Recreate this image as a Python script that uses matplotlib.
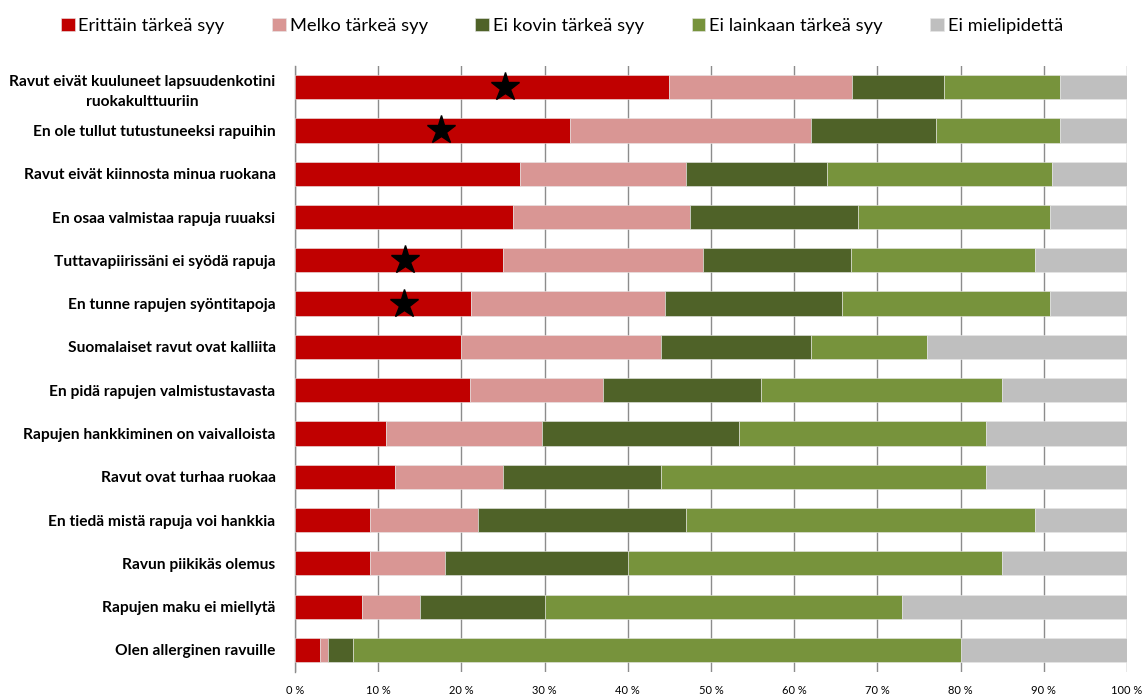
import matplotlib
matplotlib.use("Agg")
import matplotlib.pyplot as plt
import numpy as np

categories = [
    "Ravut eivät kuuluneet lapsuudenkotini\nruokakulttuuriin",
    "En ole tullut tutustuneeksi rapuihin",
    "Ravut eivät kiinnosta minua ruokana",
    "En osaa valmistaa rapuja ruuaksi",
    "Tuttavapiirissäni ei syödä rapuja",
    "En tunne rapujen syöntitapoja",
    "Suomalaiset ravut ovat kalliita",
    "En pidä rapujen valmistustavasta",
    "Rapujen hankkiminen on vaivalloista",
    "Ravut ovat turhaa ruokaa",
    "En tiedä mistä rapuja voi hankkia",
    "Ravun piikikäs olemus",
    "Rapujen maku ei miellytä",
    "Olen allerginen ravuille",
]

series_names = ["Erittäin tärkeä syy", "Melko tärkeä syy", "Ei kovin tärkeä syy",
                "Ei lainkaan tärkeä syy", "Ei mielipidettä"]

erittain = [45, 33, 27, 26.2, 25, 21.2, 20, 21, 10.9, 12, 9, 9, 8, 3]
melko = [22, 29, 20, 21.3, 24, 23.3, 24, 16, 18.8, 13, 13, 9, 7, 1]
ei_kovin = [11, 15, 17, 20.2, 17.8, 21.2, 18, 19, 23.7, 19, 25, 22, 15, 3]
ei_lainkaan = [14, 15, 27, 23, 22.1, 25, 14, 29, 29.7, 39, 42, 45, 43, 73]
ei_mielipidetta = [8, 8, 9, 9.3, 11.1, 9.3, 24, 15, 16.9, 17, 11, 15, 27, 20]

# significance markers: (category index, x position in %)
star_rows = [0, 1, 4, 5]
star_x = [25.3, 17.5, 13.2, 13.1]

tick_values = [0, 10, 20, 30, 40, 50, 60, 70, 80, 90, 100]
tick_labels = [f"{v} %" for v in tick_values]

colors = ["#C00000", "#D99694", "#4F6228", "#77933C", "#BFBFBF"]

fig = plt.figure(figsize=(11.44, 6.95), dpi=100)
ax = fig.add_axes([295 / 1144, (695 - 671.6) / 695, 832 / 1144, 606.1 / 695])

y = np.arange(len(categories))
left = np.zeros(len(categories))
handles = []
for vals, name, col in zip([erittain, melko, ei_kovin, ei_lainkaan, ei_mielipidetta],
                           series_names, colors):
    vals = np.array(vals, dtype=float)
    b = ax.barh(y, vals, left=left, height=0.56, color=col, label=name,
                edgecolor="#e8e8e8", linewidth=0.4, zorder=3)
    handles.append(b)
    left += vals

ax.plot(star_x, [y[i] for i in star_rows], linestyle="none", marker="*",
        markersize=21, color="black", zorder=5)

ax.set_xlim(0, 100)
ax.set_ylim(len(categories) - 0.5, -0.5)
ax.set_xticks(tick_values)
ax.set_xticklabels(tick_labels, fontsize=8, family="Lato")
ax.xaxis.grid(True, color="#8c8c8c", linewidth=1.0, zorder=0)
ax.tick_params(axis="x", length=0, pad=10)
ax.tick_params(axis="y", length=0, pad=14)
ax.set_yticks(y)
ax.set_yticklabels(categories, fontsize=11.2, fontweight="bold", family="Lato",
                   multialignment="center", linespacing=1.55)
for side in ["top", "right", "bottom"]:
    ax.spines[side].set_visible(False)
ax.spines["left"].set_color("#8c8c8c")
ax.spines["left"].set_linewidth(1.0)

fig.legend(handles=handles, labels=series_names, loc="center", ncol=5,
           bbox_to_anchor=(0.5 - 10 / 1144, 1 - 26 / 695), frameon=False,
           prop={"family": "Lato", "size": 13.2}, handlelength=0.75,
           handleheight=0.75, handletextpad=0.2, columnspacing=2.6)

fig.savefig("out.png", dpi=100)
